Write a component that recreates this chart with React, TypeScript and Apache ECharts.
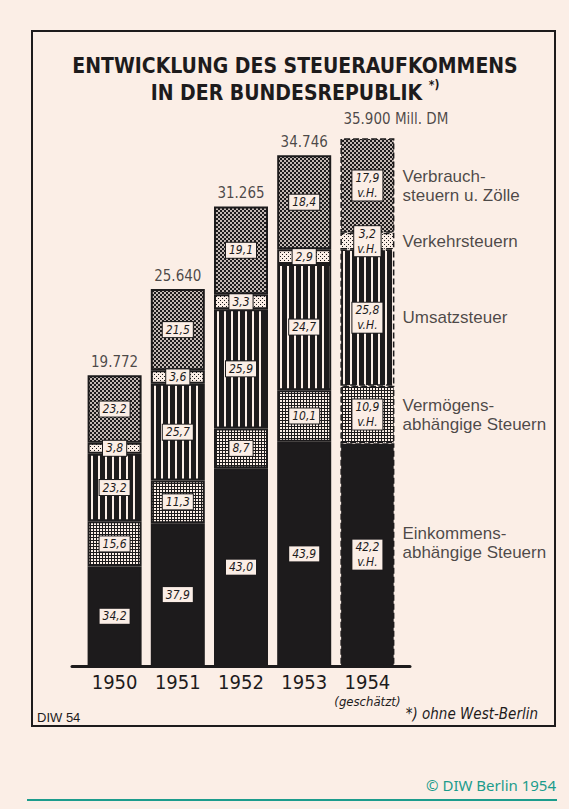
import React, { useEffect, useRef } from 'react';
import * as echarts from 'echarts';

const years = ['1950', '1951', '1952', '1953', '1954'];
const totals = [19772, 25640, 31265, 34746, 35900];
// shares in v.H. (bottom to top)
const einkommen = [34.2, 37.9, 43.0, 43.9, 42.2];
const vermoegen = [15.6, 11.3, 8.7, 10.1, 10.9];
const umsatz = [23.2, 25.7, 25.9, 24.7, 25.8];
const verkehr = [3.8, 3.6, 3.3, 2.9, 3.2];
const verbrauch = [23.2, 21.5, 19.1, 18.4, 17.9];
const seriesNames = [
  'Einkommensabhängige Steuern',
  'Vermögensabhängige Steuern',
  'Umsatzsteuer',
  'Verkehrsteuern',
  'Verbrauchsteuern u. Zölle',
];
const legendTexts = [
  'Einkommens-\nabhängige Steuern',
  'Vermögens-\nabhängige Steuern',
  'Umsatzsteuer',
  'Verkehrsteuern',
  'Verbrauch-\nsteuern u. Zölle',
];

const INK = '#1d1b1c';
const PAPER = '#fbeee6';
const TEAL = '#1c9c8c';
const NARROW = "'Liberation Sans Narrow', 'DejaVu Sans Condensed', sans-serif";
const SANS = "'Liberation Sans', 'DejaVu Sans', sans-serif";

const fmtThousands = (n: number) => String(n).replace(/\B(?=(\d{3})+(?!\d))/g, '.');
const fmtPct = (n: number) => n.toFixed(1).replace('.', ',');

function tile(w: number, h: number, draw: (c: CanvasRenderingContext2D) => void) {
  const cv = document.createElement('canvas');
  cv.width = w;
  cv.height = h;
  const ctx = cv.getContext('2d') as CanvasRenderingContext2D;
  draw(ctx);
  return { image: cv.toDataURL(), repeat: 'repeat', imageWidth: w, imageHeight: h } as any;
}

export default function App() {
  const ref = useRef<HTMLDivElement>(null);
  useEffect(() => {
    if (!ref.current) return;
    const chart = echarts.init(ref.current, null, { renderer: 'svg' });

    const gridPat = tile(3, 3, (c) => {
      c.fillStyle = PAPER; c.fillRect(0, 0, 3, 3);
      c.fillStyle = INK; c.fillRect(0, 0, 3, 1); c.fillRect(0, 0, 1, 3);
    });
    const stripePat = tile(7, 2, (c) => {
      c.fillStyle = INK; c.fillRect(0, 0, 7, 2);
      c.fillStyle = PAPER; c.fillRect(0, 0, 2, 2);
    });
    const dotPat = tile(4, 4, (c) => {
      c.fillStyle = PAPER; c.fillRect(0, 0, 4, 4);
      c.fillStyle = INK; c.fillRect(0, 0, 1, 1); c.fillRect(2, 2, 1, 1);
    });
    const hatchPat = tile(4, 4, (c) => {
      c.fillStyle = INK; c.fillRect(0, 0, 4, 4);
      c.fillStyle = PAPER;
      c.beginPath(); c.arc(1, 1, 1, 0, Math.PI * 2); c.fill();
      c.beginPath(); c.arc(3, 3, 1, 0, Math.PI * 2); c.fill();
    });

    const pctSets = [einkommen, vermoegen, umsatz, verkehr, verbrauch];
    const fills: any[] = [INK, gridPat, stripePat, dotPat, hatchPat];
    const last = years.length - 1;

    const barSeries = pctSets.map((pcts, s) => ({
      type: 'bar',
      name: seriesNames[s],
      stack: 'steuer',
      barWidth: 54,
      xAxisIndex: 0,
      yAxisIndex: 0,
      data: pcts.map((p, i) => ({
        value: (p * totals[i]) / 100,
        itemStyle: i === last ? { borderType: 'dashed', borderWidth: 1.5 } : undefined,
      })),
      itemStyle: { color: fills[s], borderColor: INK, borderWidth: 2 },
      label: {
        show: true,
        position: 'inside',
        formatter: (p: any) => fmtPct(pcts[p.dataIndex]) + (p.dataIndex === last ? '\nv.H.' : ''),
        fontFamily: NARROW,
        fontStyle: 'italic',
        fontSize: 12,
        lineHeight: 15,
        color: INK,
        backgroundColor: PAPER,
        borderColor: INK,
        borderWidth: 1,
        padding: [0, 3, 0, 3],
      },
      emphasis: { disabled: true },
    }));

    // midpoints of the 1954 segments for the right-hand legend texts
    let cum = 0;
    const legendData = pctSets.map((pcts, s) => {
      const v = (pcts[last] * totals[last]) / 100;
      const mid = cum + v / 2;
      cum += v;
      return {
        value: [0, mid],
        label: { formatter: legendTexts[s], offset: s === 0 ? [0, -12] : [0, 0] },
      };
    });

    const option: any = {
      animation: false,
      backgroundColor: PAPER,
      title: {
        text: 'ENTWICKLUNG DES STEUERAUFKOMMENS\nIN DER BUNDESREPUBLIK {sup|*)}',
        left: 295,
        top: 52,
        padding: 0,
        textAlign: 'center',
        textStyle: {
          fontFamily: NARROW,
          fontWeight: 'bold',
          fontSize: 21,
          lineHeight: 27,
          color: INK,
          rich: {
            sup: { fontFamily: NARROW, fontWeight: 'bold', fontSize: 12, verticalAlign: 'top', lineHeight: 27, padding: [0, 0, 10, 0] },
          },
        },
      },
      grid: [
        { left: 83, right: 170, top: 78, bottom: 143 },
        { left: 72, right: 159, top: 78, bottom: 143 },
        { left: 402, right: 20, top: 78, bottom: 143 },
      ],
      xAxis: [
        {
          type: 'category',
          gridIndex: 0,
          data: years,
          axisLine: { show: false },
          axisTick: { show: false },
          axisLabel: {
            interval: 0,
            margin: 5,
            fontFamily: NARROW,
            fontSize: 20,
            lineHeight: 22,
            color: INK,
            formatter: (v: string) => (v === years[last] ? v + '\n{g|(geschätzt)}' : v),
            rich: {
              g: { fontFamily: NARROW, fontStyle: 'italic', fontSize: 13, lineHeight: 16, color: INK },
            },
          },
        },
        {
          type: 'value',
          gridIndex: 1,
          min: 0,
          max: 1,
          axisLine: { show: true, onZero: false, lineStyle: { color: INK, width: 3 } },
          axisTick: { show: false },
          axisLabel: { show: false },
          splitLine: { show: false },
        },
        { type: 'value', gridIndex: 2, min: 0, max: 1, show: false },
      ],
      yAxis: [
        { type: 'value', gridIndex: 0, min: 0, max: 40000, show: false },
        { type: 'value', gridIndex: 1, min: 0, max: 1, show: false },
        { type: 'value', gridIndex: 2, min: 0, max: 40000, show: false },
      ],
      series: [
        ...barSeries,
        {
          type: 'scatter',
          name: 'Insgesamt',
          xAxisIndex: 0,
          yAxisIndex: 0,
          symbolSize: 1,
          itemStyle: { color: 'rgba(0,0,0,0)' },
          data: totals.map((t, i) =>
            i === last
              ? { value: [years[i], t], label: { align: 'left', offset: [-24, -6], formatter: fmtThousands(t) + ' Mill. DM' } }
              : { value: [years[i], t] }
          ),
          label: {
            show: true,
            position: 'top',
            distance: 5,
            formatter: (p: any) => fmtThousands(totals[p.dataIndex]),
            fontFamily: NARROW,
            fontSize: 15,
            color: INK,
          },
          emphasis: { disabled: true },
          z: 5,
        },
        {
          type: 'scatter',
          name: 'Legende',
          xAxisIndex: 2,
          yAxisIndex: 2,
          symbolSize: 1,
          itemStyle: { color: 'rgba(0,0,0,0)' },
          data: legendData,
          label: {
            show: true,
            position: 'right',
            distance: 0,
            fontFamily: SANS,
            fontSize: 17,
            lineHeight: 19,
            color: INK,
            align: 'left',
          },
          emphasis: { disabled: true },
          z: 5,
        },
      ],
      graphic: [
        {
          type: 'rect',
          shape: { x: 32, y: 31, width: 523, height: 695 },
          style: { fill: 'none', stroke: INK, lineWidth: 2 },
          z: -1,
        },
        {
          type: 'text',
          x: 37,
          y: 717,
          style: { text: 'DIW 54', font: `13px ${SANS}`, fill: INK, verticalAlign: 'middle' },
        },
        {
          type: 'text',
          x: 538,
          y: 714,
          style: { text: '*) ohne West-Berlin', font: `italic 15px ${NARROW}`, fill: INK, textAlign: 'right', verticalAlign: 'middle' },
        },
        {
          type: 'text',
          x: 556,
          y: 785,
          style: { text: '© DIW Berlin 1954', font: `15px 'Noto Sans', sans-serif`, fill: TEAL, textAlign: 'right', verticalAlign: 'middle' },
        },
        {
          type: 'line',
          shape: { x1: 27, y1: 800, x2: 557, y2: 800 },
          style: { stroke: TEAL, lineWidth: 2 },
        },
      ],
    };
    chart.setOption(option);
    return () => chart.dispose();
  }, []);
  return <div ref={ref} style={{ position: 'fixed', left: 0, top: 0, width: 569, height: 809 }} />;
}
